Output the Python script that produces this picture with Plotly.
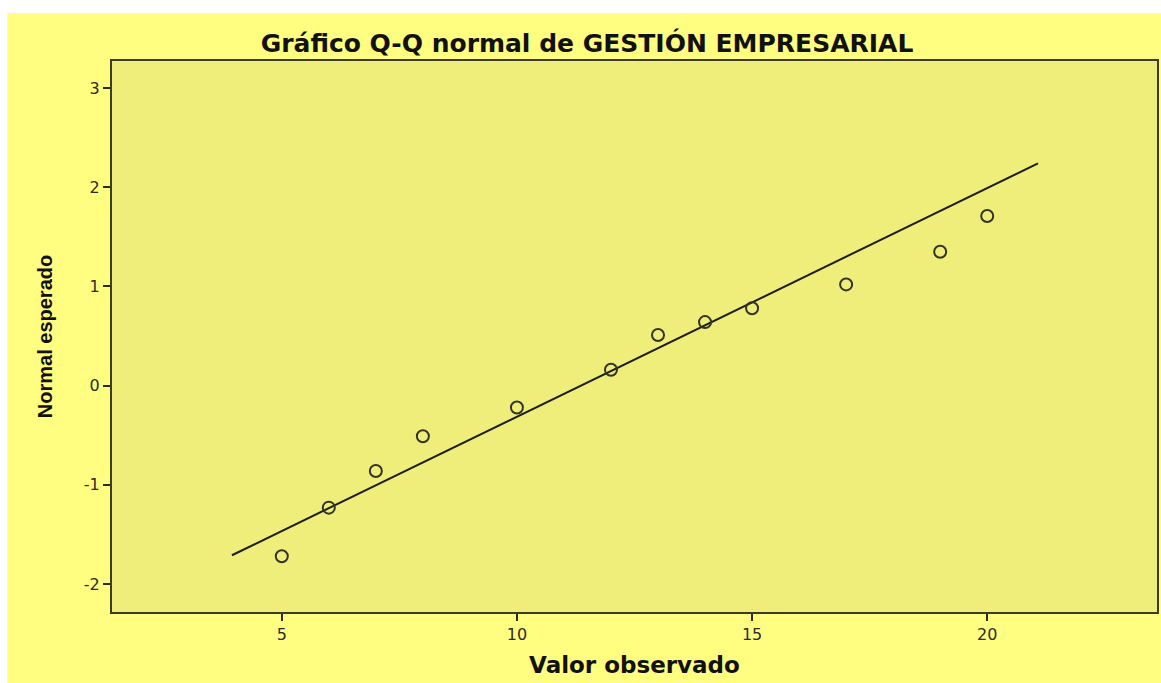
import plotly.graph_objects as go

# observed values and their expected normal scores
valor_observado = [5, 6, 7, 8, 10, 12, 13, 14, 15, 17, 19, 20]
normal_esperado = [-1.72, -1.23, -0.86, -0.51, -0.22, 0.16, 0.51, 0.64, 0.78, 1.02, 1.35, 1.71]

# reference line end points
linea_x = [3.94, 21.08]
linea_y = [-1.71, 2.24]

x_ticks = [5, 10, 15, 20]
y_ticks = [-2, -1, 0, 1, 2, 3]
y_ticktext = ["-2", "-1", "0", "1", "2", "3"]

fondo_exterior = "#FFFE80"
fondo_grafico = "#F0EE7B"
tinta = "#2b2b22"

fig = go.Figure()
fig.add_trace(go.Scatter(
    x=linea_x, y=linea_y, mode="lines",
    line=dict(color="#1e1e1a", width=2),
    hoverinfo="skip", showlegend=False,
))
fig.add_trace(go.Scatter(
    x=valor_observado, y=normal_esperado, mode="markers",
    marker=dict(symbol="circle-open", size=12, color="#333326", line=dict(width=2)),
    showlegend=False,
))

eje = dict(
    showgrid=False, zeroline=False,
    showline=True, linecolor="#3c3c2c", linewidth=2, mirror=True,
    ticks="outside", ticklen=7, tickwidth=2, tickcolor=tinta,
    tickfont=dict(family="DejaVu Sans", size=16, color=tinta),
)

fig.update_layout(
    width=1161, height=683,
    margin=dict(l=112, r=2, t=61, b=71),
    paper_bgcolor="white",
    plot_bgcolor=fondo_grafico,
    title=dict(
        text="<b>Gráfico Q-Q normal de GESTIÓN EMPRESARIAL</b>",
        x=0.5056, xanchor="center", xref="container",
        y=1 - 43 / 683, yanchor="middle", yref="container",
        font=dict(family="DejaVu Sans", size=25, color="#111"),
    ),
    xaxis=dict(
        eje, range=[1.39, 23.61], tickvals=x_ticks,
        title=dict(text="<b>Valor observado</b>", standoff=14,
                   font=dict(family="DejaVu Sans", size=23, color="#111")),
    ),
    yaxis=dict(
        eje, range=[-2.282, 3.272], tickvals=y_ticks, ticktext=y_ticktext,
        title=dict(text="<b>Normal esperado</b>", standoff=26,
                   font=dict(family="Liberation Sans Narrow, Liberation Sans, Arial", size=20, color="#111")),
    ),
    shapes=[
        dict(type="rect", xref="paper", yref="paper", layer="below",
             x0=-0.1003, x1=1.01, y0=-0.2, y1=1.0871,
             fillcolor=fondo_exterior, line=dict(width=0)),
        dict(type="rect", xref="paper", yref="paper", layer="below",
             x0=0, x1=1, y0=0, y1=1,
             fillcolor=fondo_grafico, line=dict(width=0)),
    ],
)

fig.write_html("out.html", config={"displayModeBar": False},
               post_script="document.body.style.margin='0';")
